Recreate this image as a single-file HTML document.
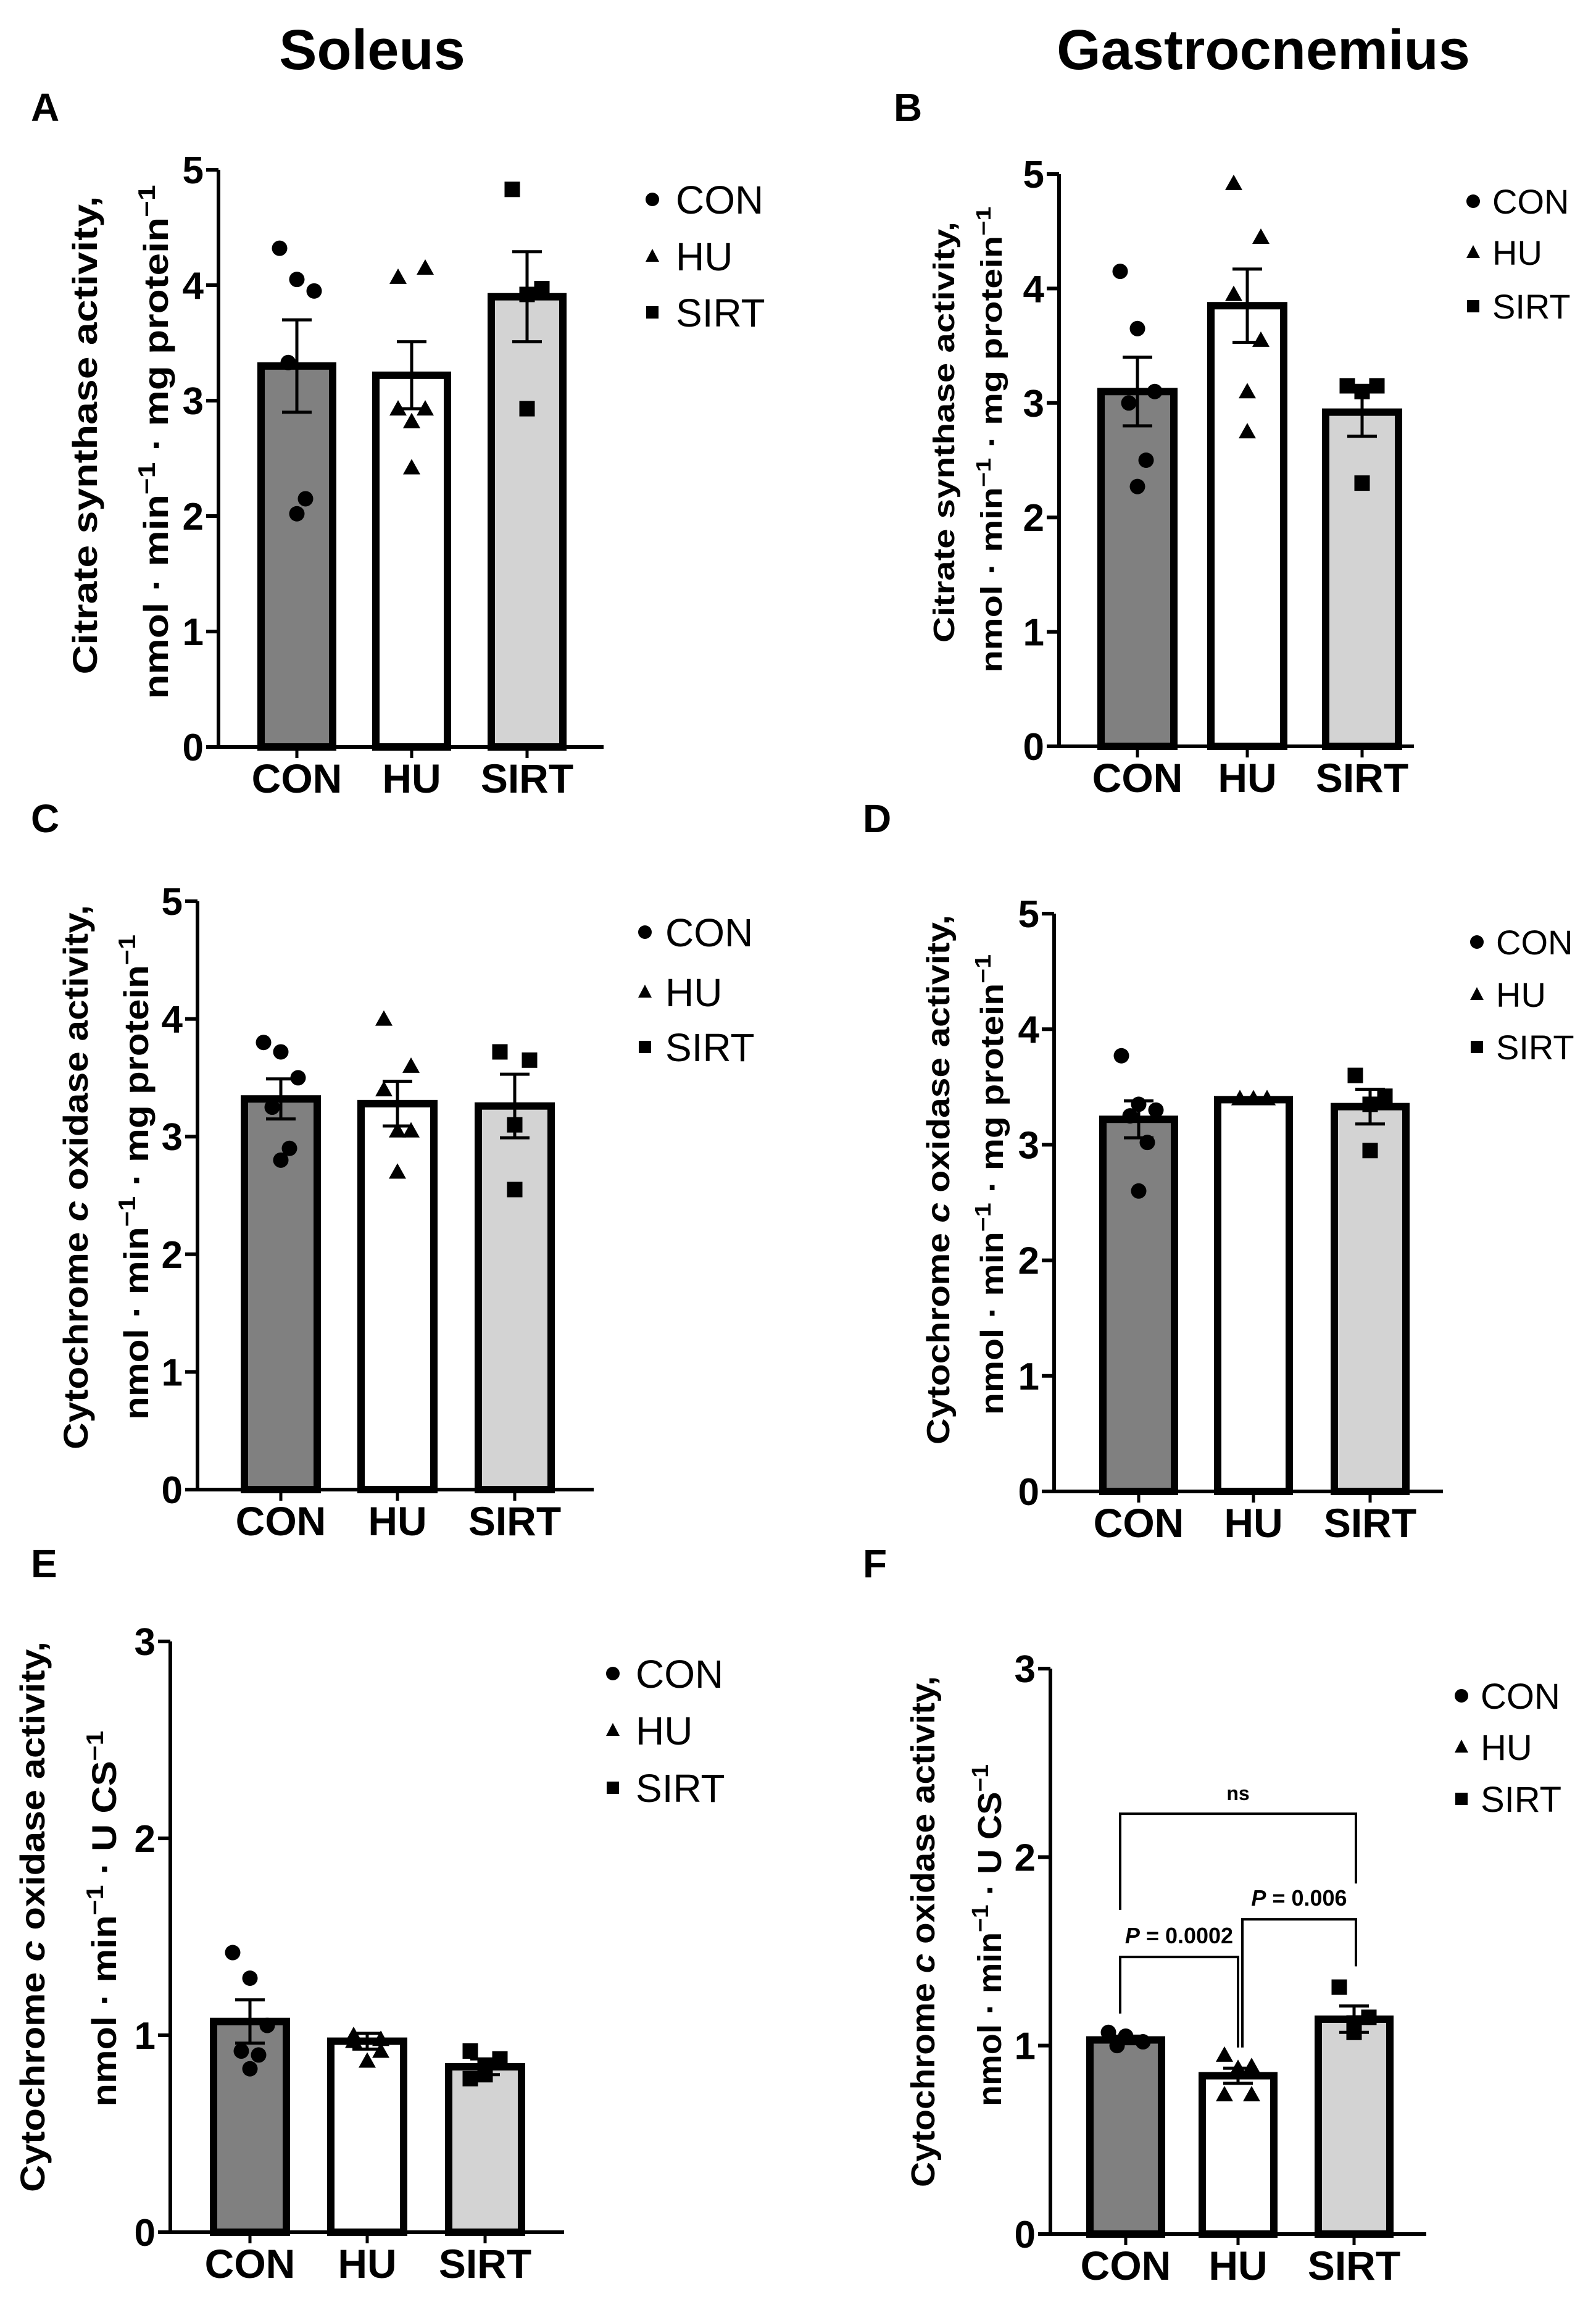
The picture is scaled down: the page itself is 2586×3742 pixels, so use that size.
<!DOCTYPE html>
<html><head><meta charset="utf-8">
<style>
html,body{margin:0;padding:0;background:#fff;}
svg{display:block;font-family:"Liberation Sans",Arial,sans-serif;}
</style></head>
<body>
<svg id="fig" width="2586" height="3742" viewBox="0 0 2586 3742" xmlns="http://www.w3.org/2000/svg">
<text x="603" y="112" font-size="92" font-weight="bold" text-anchor="middle">Soleus</text>
<text x="2047" y="112" font-size="92" font-weight="bold" text-anchor="middle">Gastrocnemius</text>
<g id="panels"></g>
</svg>
<script>
const categories = ["CON","HU","SIRT"];
const aMeans=[3.30,3.22,3.90], aSem=[0.40,0.29,0.39];
const aPts=[[4.32,4.05,3.95,3.33,2.15,2.02],[4.07,4.15,2.93,2.93,2.82,2.42],[4.83,3.97,3.92,2.93]];
const bMeans=[3.10,3.85,2.92], bSem=[0.30,0.32,0.21];
const bPts=[[4.15,3.65,3.10,3.00,2.50,2.27],[4.92,4.45,3.95,3.55,3.10,2.75],[3.15,3.15,3.10,2.30]];
const cMeans=[3.32,3.28,3.26], cSem=[0.17,0.19,0.27];
const cPts=[[3.80,3.72,3.50,3.25,2.90,2.80],[4.00,3.60,3.40,3.05,3.05,2.70],[3.72,3.65,3.10,2.55]];
const dMeans=[3.22,3.39,3.33], dSem=[0.16,0.01,0.15];
const dPts=[[3.77,3.35,3.30,3.25,3.02,2.60],[3.40,3.40,3.40,3.40,3.40],[3.60,3.42,3.35,2.95]];
const eMeans=[1.07,0.97,0.84], eSem=[0.11,0.04,0.04];
const ePts=[[1.42,1.29,1.05,0.92,0.90,0.83],[1.00,0.98,0.97,0.92,0.87],[0.92,0.88,0.84,0.80,0.78]];
const fMeans=[1.03,0.84,1.14], fSem=[0.02,0.04,0.07];
const fPts=[[1.07,1.05,1.02,1.00],[0.95,0.89,0.74,0.74,0.88],[1.31,1.15,1.12,1.07]];
const yTicks5=[0,1,2,3,4,5], yTicks3=[0,1,2,3];

const NS="http://www.w3.org/2000/svg";
const root=document.getElementById('panels');
function el(tag,attrs,parent){const e=document.createElementNS(NS,tag);for(const k in attrs)e.setAttribute(k,attrs[k]);(parent||root).appendChild(e);return e;}
const fills=["#808080","#ffffff","#d3d3d3"];
const jit=[[-28,0,28,-14,14,0],[-22,22,-22,22,0,0],[-24,24,0,0]];

function panel(p){
  const g=el('g',{});
  
  
  const ys=v=>p.y0-(v/p.max)*(p.y0-p.ytop);
  const L=el('text',{x:p.lx,y:p.ly,'font-size':64,'font-weight':'bold'},g);L.textContent=p.id;
  
  
  categories.forEach((c,i)=>{
    const cx=p.cx[i],m=p.means[i];
    const r=el('rect',{x:cx-p.bw/2,y:ys(m),width:p.bw,height:p.y0-ys(m),fill:fills[i],stroke:'#000','stroke-width':12},g);
    
    
    const s=p.sem[i];
    const eb=el('path',{d:`M${cx},${ys(m-s)}V${ys(m+s)}M${cx-24},${ys(m+s)}H${cx+24}M${cx-24},${ys(m-s)}H${cx+24}`,stroke:'#000','stroke-width':5,fill:'none'},g);
    
    
  });
  p.pts.forEach((arr,i)=>{arr.forEach((v,j)=>{
    const x=p.cx[i]+jit[i][j%jit[i].length],y=ys(v);let m;
    if(i==0)m=el('circle',{cx:x,cy:y,r:12.5,fill:'#000'},g);
    else if(i==1)m=el('polygon',{points:`${x},${y-14} ${x-14},${y+11} ${x+14},${y+11}`,fill:'#000'},g);
    else m=el('rect',{x:x-12.5,y:y-12.5,width:25,height:25,fill:'#000'},g);
    
    
  });});
  const ax=el('path',{d:`M${p.ax},${p.ytop}V${p.y0}H${p.axEnd}`,stroke:'#000','stroke-width':6,fill:'none'},g);
  
  
  p.ticks.forEach(t=>{
    el('path',{d:`M${p.ax-20},${ys(t)}H${p.ax}`,stroke:'#000','stroke-width':6},g);
    const tt=el('text',{x:p.ax-24,y:ys(t)+22,'font-size':62,'font-weight':'bold','text-anchor':'end'},g);tt.textContent=t;
    
    
  });
  categories.forEach((c,i)=>{
    el('path',{d:`M${p.cx[i]},${p.y0}V${p.y0+18}`,stroke:'#000','stroke-width':5},g);
    const t=el('text',{x:p.cx[i],y:p.y0+74,'font-size':66,'font-weight':'bold','text-anchor':'middle'},g);t.textContent=c;
    
    
  });
  const t1=el('text',{transform:`translate(${p.t1x},${p.tcy}) rotate(-90)`,'font-size':p.tfs,'font-weight':'bold','text-anchor':'middle',textLength:p.t1len,lengthAdjust:'spacingAndGlyphs'},g);
  t1.innerHTML=p.t1;
  
  
  const t2=el('text',{transform:`translate(${p.t2x},${p.tcy2}) rotate(-90)`,'font-size':p.tfs,'font-weight':'bold','text-anchor':'middle',textLength:p.t2len,lengthAdjust:'spacingAndGlyphs'},g);
  t2.innerHTML=p.t2;
  
  
  categories.forEach((c,i)=>{
    const y=p.legY[i],x=p.legX;let m;
    if(i==0)m=el('circle',{cx:x,cy:y,r:11,fill:'#000'},g);
    else if(i==1)m=el('polygon',{points:`${x},${y-12} ${x-11},${y+9} ${x+11},${y+9}`,fill:'#000'},g);
    else m=el('rect',{x:x-10,y:y-10,width:20,height:20,fill:'#000'},g);
    
    
    const t=el('text',{x:p.legTx,y:y+p.lfs*0.36,'font-size':p.lfs},g);t.textContent=c;
    
    
  });
  return ys;
}
const sup='<tspan baseline-shift="super" font-size="70%">−1</tspan>';
const csTitle='Citrate synthase activity,';
const coxTitle='Cytochrome <tspan font-style="italic">c</tspan> oxidase activity,';
const unitsProt='nmol · min'+sup+' · mg protein'+sup;
const unitsCS='nmol · min'+sup+' · U CS'+sup;

panel({id:'A',lx:50,ly:196,means:aMeans,sem:aSem,pts:aPts,max:5,ticks:yTicks5,ax:354,ytop:275,y0:1210,axEnd:978,cx:[481,667,854],bw:116,
  t1:csTitle,t2:unitsProt,t1x:157,t2x:272,tcy:705,tcy2:716,tfs:56,t1len:775,t2len:833,legX:1057,legTx:1095,legY:[323,415,506],lfs:64});
panel({id:'B',lx:1448,ly:196,means:bMeans,sem:bSem,pts:bPts,max:5,ticks:yTicks5,ax:1716,ytop:282,y0:1209,axEnd:2291,cx:[1843,2021,2207],bw:118,
  t1:csTitle,t2:unitsProt,t1x:1546,t2x:1623,tcy:700,tcy2:712,tfs:48,t1len:682,t2len:755,legX:2387,legTx:2418,legY:[326,409,496],lfs:56});
panel({id:'C',lx:50,ly:1348,means:cMeans,sem:cSem,pts:cPts,max:5,ticks:yTicks5,ax:320,ytop:1460,y0:2413,axEnd:962,cx:[455,644,834],bw:118,
  t1:coxTitle,t2:unitsProt,t1x:142,t2x:240,tcy:1907,tcy2:1907,tfs:56,t1len:882,t2len:786,legX:1045,legTx:1078,legY:[1510,1607,1696],lfs:64});
panel({id:'D',lx:1398,ly:1348,means:dMeans,sem:dSem,pts:dPts,max:5,ticks:yTicks5,ax:1708,ytop:1480,y0:2416,axEnd:2338,cx:[1845,2031,2220],bw:116,
  t1:coxTitle,t2:unitsProt,t1x:1538,t2x:1625,tcy:1911,tcy2:1919,tfs:52,t1len:858,t2len:746,legX:2393,legTx:2424,legY:[1526,1611,1696],lfs:56});
panel({id:'E',lx:50,ly:2555,means:eMeans,sem:eSem,pts:ePts,max:3,ticks:yTicks3,ax:276,ytop:2659,y0:3616,axEnd:914,cx:[405,595,786],bw:118,
  t1:coxTitle,t2:unitsCS,t1x:72,t2x:188,tcy:3105,tcy2:3108,tfs:56,t1len:892,t2len:609,legX:993,legTx:1030,legY:[2711,2803,2896],lfs:64});
const fy=panel({id:'F',lx:1398,ly:2555,means:fMeans,sem:fSem,pts:fPts,max:3,ticks:yTicks3,ax:1702,ytop:2703,y0:3619,axEnd:2311,cx:[1824,2006,2194],bw:116,
  t1:coxTitle,t2:unitsCS,t1x:1514,t2x:1622,tcy:3129,tcy2:3135,tfs:54,t1len:828,t2len:554,legX:2368,legTx:2399,legY:[2747,2830,2914],lfs:58});

const brackets=[{x1:1815,x2:2197,top:2.23,l:1.72,r:1.86,label:'ns'},{x1:1815,x2:2006,top:1.47,l:1.17,r:0.99,label:'= 0.0002'},{x1:2013,x2:2197,top:1.67,l:0.99,r:1.42,label:'= 0.006'}];
brackets.forEach(b=>{
  const pth=el('path',{d:`M${b.x1},${fy(b.l)}V${fy(b.top)}H${b.x2}V${fy(b.r)}`,stroke:'#000','stroke-width':4,fill:'none'});
  
  
  const t=el('text',{x:(b.x1+b.x2)/2,y:fy(b.top)-22,'font-size':b.label=='ns'?32:36,'font-weight':'bold','text-anchor':'middle'});
  t.innerHTML=b.label=='ns'?'ns':'<tspan font-style="italic">P</tspan> '+b.label;
  
  
});
</script>
</body></html>
